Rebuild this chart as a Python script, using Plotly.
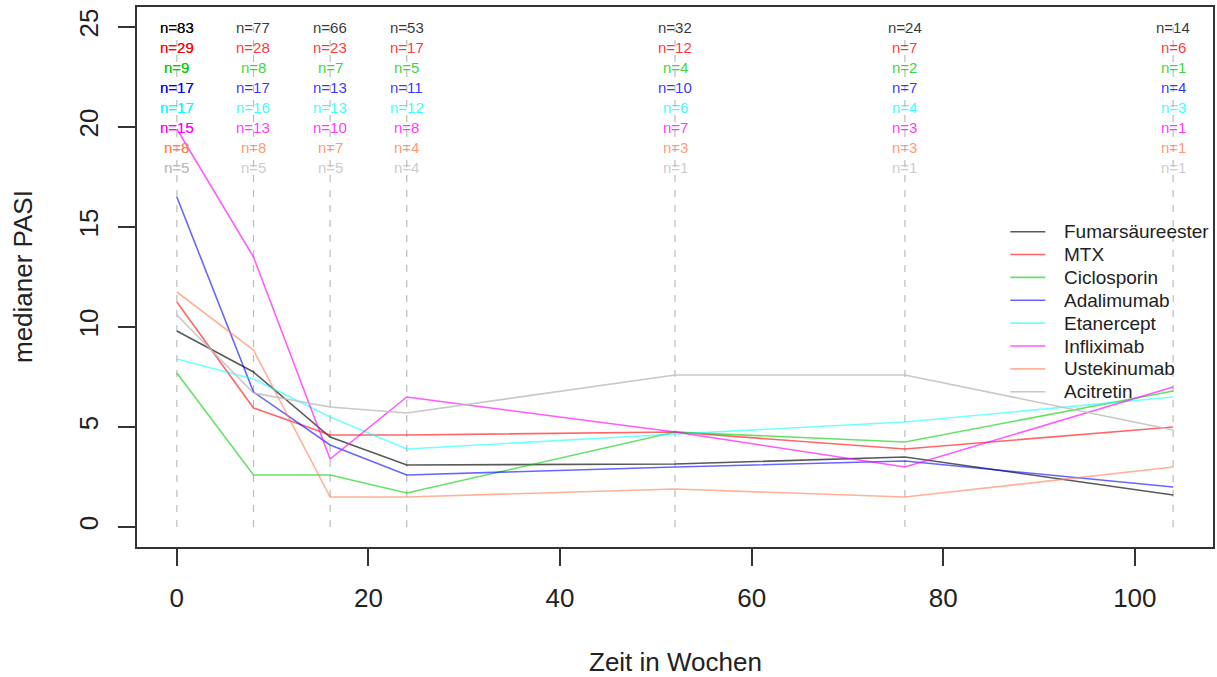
import plotly.graph_objects as go

weeks = [0, 8, 16, 24, 52, 76, 104]
series_names = ["Fumarsäureester", "MTX", "Ciclosporin", "Adalimumab",
                "Etanercept", "Infliximab", "Ustekinumab", "Acitretin"]

fumarsaeureester = [9.8, 7.75, 4.5, 3.1, 3.15, 3.5, 1.6]
mtx = [11.25, 5.95, 4.6, 4.6, 4.75, 3.9, 5.0]
ciclosporin = [7.7, 2.6, 2.6, 1.7, 4.75, 4.25, 6.8]
adalimumab = [16.5, 6.75, 4.1, 2.6, 3.0, 3.3, 2.0]
etanercept = [8.4, 7.4, 5.5, 3.9, 4.65, 5.25, 6.5]
infliximab = [19.9, 13.5, 3.4, 6.5, 4.75, 3.0, 7.0]
ustekinumab = [11.75, 8.85, 1.5, 1.5, 1.9, 1.5, 3.0]
acitretin = [10.6, 6.7, 6.0, 5.7, 7.6, 7.6, 4.85]

n_fumarsaeureester = [83, 77, 66, 53, 32, 24, 14]
n_mtx = [29, 28, 23, 17, 12, 7, 6]
n_ciclosporin = [9, 8, 7, 5, 4, 2, 1]
n_adalimumab = [17, 17, 13, 11, 10, 7, 4]
n_etanercept = [17, 16, 13, 12, 6, 4, 3]
n_infliximab = [15, 13, 10, 8, 7, 3, 1]
n_ustekinumab = [8, 8, 7, 4, 3, 3, 1]
n_acitretin = [5, 5, 5, 4, 1, 1, 1]

label_rows = [25, 24, 23, 22, 21, 20, 19, 18]
x_ticks = [0, 20, 40, 60, 80, 100]
y_ticks = [0, 5, 10, 15, 20, 25]

values = [fumarsaeureester, mtx, ciclosporin, adalimumab,
          etanercept, infliximab, ustekinumab, acitretin]
counts = [n_fumarsaeureester, n_mtx, n_ciclosporin, n_adalimumab,
          n_etanercept, n_infliximab, n_ustekinumab, n_acitretin]

base_rgb = ["0,0,0", "255,0,0", "0,205,0", "0,0,255",
            "0,255,255", "255,0,255", "255,127,80", "190,190,190"]
line_alpha = [0.65, 0.6, 0.6, 0.6, 0.55, 0.65, 0.6, 0.85]

FONT = "Liberation Sans, Arial, sans-serif"
W, H = 1217, 677
ML, MR, MT, MB = 137, 2, 7, 130
PW, PH = W - ML - MR, H - MT - MB


def px_x(p):
    return (p - ML) / PW


def px_y(p):
    return 1 - (p - MT) / PH


fig = go.Figure()

# dashed vertical guides
for w in weeks:
    fig.add_trace(go.Scatter(
        x=[w, w], y=[0, label_rows[0]], mode="lines",
        line=dict(color="rgba(160,160,160,0.7)", width=1.2, dash="7px,8px"),
        showlegend=False, hoverinfo="skip"))

for name, vals, rgb, a in zip(series_names, values, base_rgb, line_alpha):
    fig.add_trace(go.Scatter(
        x=weeks, y=vals, mode="lines", name=name, showlegend=False,
        line=dict(color=f"rgba({rgb},{a})", width=1.6)))

annotations = []
shapes = []
for cnt, rgb, row in zip(counts, base_rgb, label_rows):
    for i, (w, n) in enumerate(zip(weeks, cnt)):
        reps = 2 if i == 0 else 1
        alpha = 0.95 if i == 0 else 0.8
        for _ in range(reps):
            annotations.append(dict(
                x=w, y=row, xref="x", yref="y", text=f"n={n}",
                showarrow=False, font=dict(family=FONT, size=15,
                                           color=f"rgba({rgb},{alpha})")))

# legend (no frame), R style
for i, (name, rgb, a) in enumerate(zip(series_names, base_rgb, line_alpha)):
    py = 231.7 + 22.86 * i
    shapes.append(dict(type="line", xref="paper", yref="paper",
                       x0=px_x(1012), x1=px_x(1047), y0=px_y(py), y1=px_y(py),
                       line=dict(color=f"rgba({rgb},{a})", width=1.6)))
    annotations.append(dict(x=px_x(1064), y=px_y(py), xref="paper", yref="paper",
                            text=name, showarrow=False, xanchor="left",
                            yanchor="middle",
                            font=dict(family=FONT, size=19, color="#222")))

annotations.append(dict(x=0.5, y=0, xref="paper", yref="paper",
                        text="Zeit in Wochen", showarrow=False,
                        yshift=-132, font=dict(family=FONT, size=26, color="#222")))
annotations.append(dict(x=0, y=0.5, xref="paper", yref="paper",
                        text="medianer PASI", showarrow=False, textangle=-90,
                        xshift=-131, font=dict(family=FONT, size=26, color="#222")))

fig.update_layout(
    width=W, height=H,
    margin=dict(l=ML, r=MR, t=MT, b=MB),
    paper_bgcolor="white", plot_bgcolor="white",
    font=dict(family=FONT, color="#222"),
    annotations=annotations, shapes=shapes,
    showlegend=False,
)
fig.update_xaxes(range=[-4.16, 108.16], tickvals=x_ticks, showgrid=False,
                 zeroline=False, showline=True, mirror=True, linecolor="#333",
                 linewidth=1.5, ticks="outside", ticklen=17, tickwidth=1.5,
                 tickcolor="#333", tickfont=dict(family=FONT, size=26, color="#222"),
                 ticklabelstandoff=10)
fig.update_yaxes(range=[-1, 26], tickvals=y_ticks, showgrid=False,
                 zeroline=False, showline=True, mirror=True, linecolor="#333",
                 linewidth=1.5, ticks="outside", ticklen=17, tickwidth=1.5,
                 tickcolor="#333", tickangle=-90,
                 tickfont=dict(family=FONT, size=26, color="#222"),
                 ticklabelstandoff=10)

fig.write_html("out.html", config={"displayModeBar": False},
               post_script="document.body.style.margin='0';document.body.style.padding='0';")
